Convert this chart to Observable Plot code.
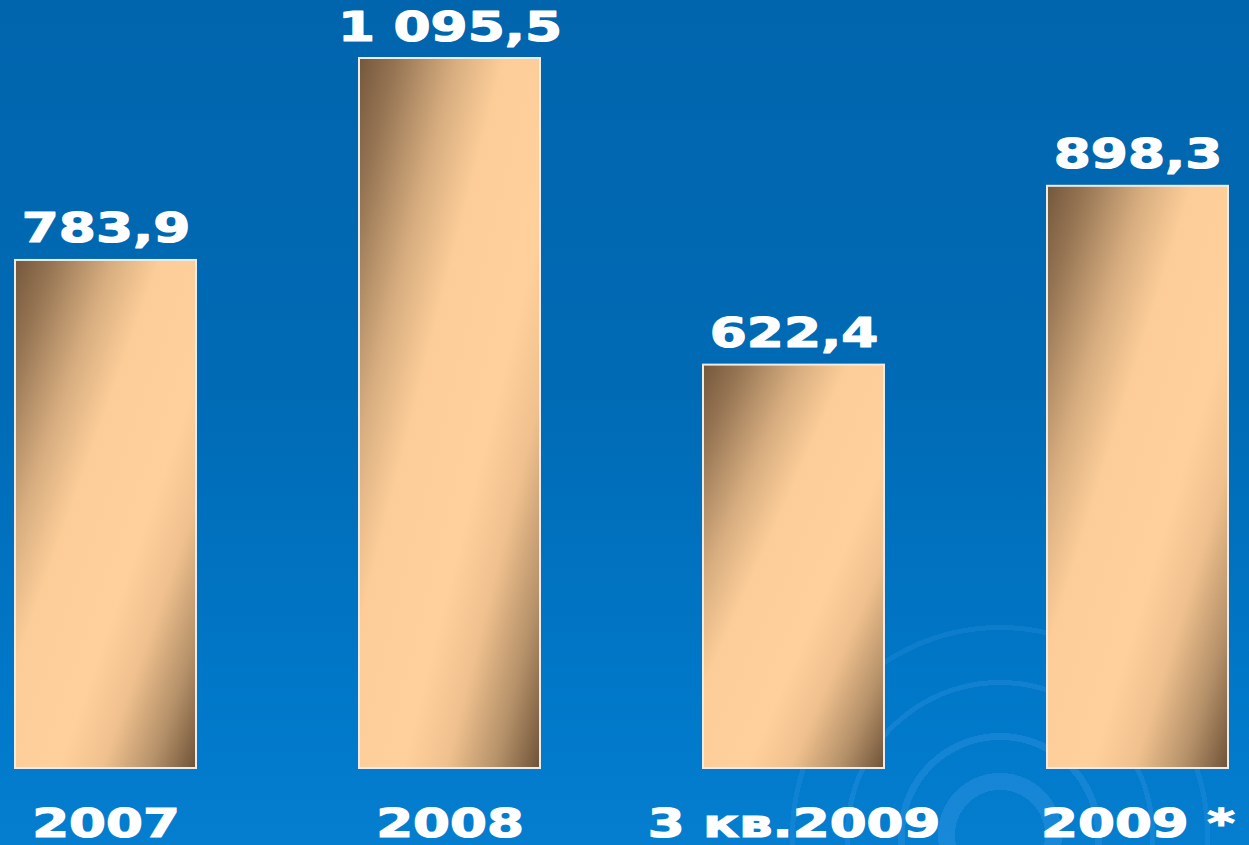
<!DOCTYPE html>
<html>
<head>
<meta charset="utf-8">
<script src="https://cdn.jsdelivr.net/npm/d3@7"></script>
<script src="https://cdn.jsdelivr.net/npm/@observablehq/plot@0.6"></script>
<style>
  html, body { margin: 0; padding: 0; }
  body {
    width: 1249px; height: 845px; overflow: hidden;
    background:
      radial-gradient(circle at 1000px 835px,
        rgba(90,170,245,0.0) 0 45px,
        rgba(90,170,245,0.22) 45px 62px,
        rgba(90,170,245,0.0) 62px 95px,
        rgba(90,170,245,0.20) 95px 102px,
        rgba(90,170,245,0.0) 102px 150px,
        rgba(90,170,245,0.18) 150px 155px,
        rgba(90,170,245,0.0) 155px 205px,
        rgba(90,170,245,0.14) 205px 210px,
        rgba(90,170,245,0.0) 210px),
      linear-gradient(to bottom, #0065ad 0%, #006ab4 45%, #0077c7 80%, #057ed0 100%);
  }
  #chart svg { display: block; }
</style>
</head>
<body>
<div id="chart"></div>
<script>
const categories = ["2007", "2008", "3 кв.2009", "2009 *"];
const values = [783.9, 1095.5, 622.4, 898.3];
const valueLabels = ["783,9", "1 095,5", "622,4", "898,3"];

const data = categories.map((c, i) => ({category: c, value: values[i], label: valueLabels[i]}));

const W = 1249, H = 845;
const fontFamily = "'DejaVu Sans', Verdana, sans-serif";

const plot = Plot.plot({
  width: W,
  height: H,
  marginLeft: 15,
  marginRight: 21,
  marginTop: 0,
  marginBottom: 77,
  style: {background: "transparent", fontFamily, overflow: "visible"},
  x: {domain: categories, paddingInner: 0.474, paddingOuter: 0, label: null},
  y: {domain: [0, 1185], axis: null},
  marks: [
    Plot.barY(data, {x: "category", y: "value", fill: "url(#barGrad)", stroke: "#ececec", strokeWidth: 2}),
    Plot.text(data, {
      x: "category", y: "value", text: "label",
      lineAnchor: "bottom", dy: -18,
      fill: "white", stroke: "white", strokeWidth: 1.2,
      fontSize: 41, fontWeight: "bold", className: "vlabel"
    }),
    Plot.axisX({
      tickSize: 0, tickPadding: 41, fontSize: 39, fontWeight: "bold",
      fill: "white", color: "white", label: null, className: "xlabel"
    })
  ]
});

// gradient definition for the bars
const defs = d3.select(plot).insert("defs", ":first-child");
const g = defs.append("linearGradient").attr("id", "barGrad")
  .attr("x1", 0).attr("y1", 0).attr("x2", 1).attr("y2", 1);
[[0, "#74573b"], [0.1, "#947352"], [0.27, "#d8ae80"], [0.4, "#fccd98"],
 [0.62, "#ffd09b"], [0.74, "#f0c18e"], [0.88, "#b38f68"], [1, "#6e5237"]]
  .forEach(([o, c]) => g.append("stop").attr("offset", o).attr("stop-color", c));

document.getElementById("chart").appendChild(plot);

// widen the glyphs horizontally (extended heavy face look)
function widen(sel, s) {
  d3.select(plot).selectAll(sel).each(function() {
    const bb = this.getBBox();
    const cx = bb.x + bb.width / 2;
    const t = this.getAttribute("transform") || "";
    this.setAttribute("transform", `${t} translate(${cx},0) scale(${s},1) translate(${-cx},0)`);
  });
}
d3.select(plot).selectAll(".xlabel text").attr("stroke", "white").attr("stroke-width", 1.2);
widen(".vlabel text", 1.3);
widen(".xlabel text", 1.36);
</script>
</body>
</html>
